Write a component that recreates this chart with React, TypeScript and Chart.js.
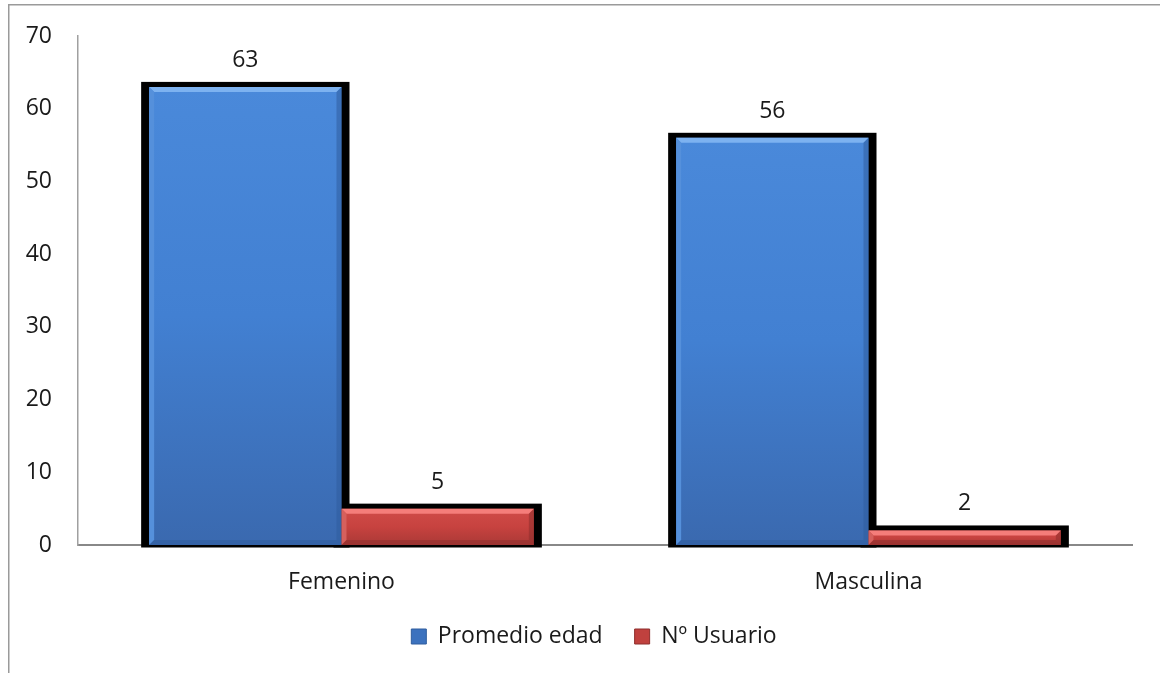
import React, { useEffect, useRef } from "react";
import { Chart, registerables } from "chart.js";

Chart.register(...registerables);

const categories = ["Femenino", "Masculina"];
const promedioEdad = [63, 56];
const numUsuario = [5, 2];
const seriesNames = ["Promedio edad", "Nº Usuario"];
const yTicks = [0, 10, 20, 30, 40, 50, 60, 70];

const FONT = "'Open Sans', sans-serif";
const FSIZE = 23;

const palettes = [
  { top: "#4A89DA", mid: "#4280D2", bottom: "#3A69AF", light: "#7DB2F0", side: "#5590DB", dark: "#2F5C9E", legend: "#3C72BE" },
  { top: "#D04C49", mid: "#C7423F", bottom: "#AA3937", light: "#F57D7A", side: "#D6605D", dark: "#8E2E2C", legend: "#C0413E" },
];

function barGradient(ctx: any, di: number) {
  const chart = ctx.chart;
  const y = chart.scales?.y;
  const p = palettes[di];
  if (!y || ctx.dataIndex === undefined) return p.mid;
  const v = ctx.raw as number;
  const top = y.getPixelForValue(v);
  const base = y.getPixelForValue(0);
  if (!isFinite(top) || !isFinite(base) || base - top < 1) return p.mid;
  const g = chart.ctx.createLinearGradient(0, top, 0, base);
  g.addColorStop(0, p.top);
  g.addColorStop(0.5, p.mid);
  g.addColorStop(1, p.bottom);
  return g;
}

const framePlugin = {
  id: "frame",
  beforeDraw(chart: any) {
    const c = chart.ctx;
    c.save();
    c.fillStyle = "#ffffff";
    c.fillRect(0, 0, chart.width, chart.height);
    c.strokeStyle = "#9a9a9a";
    c.lineWidth = 1.5;
    c.beginPath();
    c.moveTo(8.75, chart.height + 5);
    c.lineTo(8.75, 4.75);
    c.lineTo(chart.width + 5, 4.75);
    c.stroke();
    c.restore();
  },
};

const legendShiftPlugin = {
  id: "legendShift",
  afterLayout(chart: any) {
    const lg = chart.legend;
    if (lg) {
      lg.left = 28;
      lg.right = chart.width;
    }
  },
};

const shadowPlugin = {
  id: "barShadow",
  beforeDatasetsDraw(chart: any) {
    const c = chart.ctx;
    c.save();
    c.fillStyle = "#000000";
    chart.data.datasets.forEach((_: any, di: number) => {
      const meta = chart.getDatasetMeta(di);
      meta.data.forEach((el: any) => {
        const w = el.width;
        const l = el.x - w / 2 - 8;
        const r = el.x + w / 2 + 8;
        const t = el.y - 5;
        const b = el.base + 2.5;
        c.fillRect(l, t, r - l, b - t);
      });
    });
    c.restore();
  },
};

const bevelPlugin = {
  id: "bevel",
  afterDatasetsDraw(chart: any) {
    const c = chart.ctx;
    c.save();
    chart.data.datasets.forEach((ds: any, di: number) => {
      const p = palettes[di];
      const meta = chart.getDatasetMeta(di);
      meta.data.forEach((el: any, i: number) => {
        const w = el.width;
        const l = el.x - w / 2;
        const r = el.x + w / 2;
        const t = el.y;
        const b = el.base;
        const bv = Math.min(5, (b - t) / 2);
        c.fillStyle = p.light;
        c.beginPath();
        c.moveTo(l, t);
        c.lineTo(r, t);
        c.lineTo(r - bv, t + bv);
        c.lineTo(l + bv, t + bv);
        c.closePath();
        c.fill();
        c.fillStyle = p.side;
        c.beginPath();
        c.moveTo(l, t);
        c.lineTo(l + bv, t + bv);
        c.lineTo(l + bv, b - bv);
        c.lineTo(l, b);
        c.closePath();
        c.fill();
        c.fillStyle = p.dark;
        c.globalAlpha = 0.55;
        c.beginPath();
        c.moveTo(r, t);
        c.lineTo(r - bv, t + bv);
        c.lineTo(r - bv, b - bv);
        c.lineTo(r, b);
        c.closePath();
        c.fill();
        c.beginPath();
        c.moveTo(l, b);
        c.lineTo(l + bv, b - bv);
        c.lineTo(r - bv, b - bv);
        c.lineTo(r, b);
        c.closePath();
        c.fill();
        c.globalAlpha = 1;
        c.fillStyle = "#1a1a1a";
        c.font = `${FSIZE}px ${FONT}`;
        c.textAlign = "center";
        c.textBaseline = "alphabetic";
        c.fillText(String(ds.data[i]), el.x, t - 20);
      });
    });
    c.restore();
  },
};

export default function App() {
  const ref = useRef<HTMLCanvasElement | null>(null);
  useEffect(() => {
    if (!ref.current) return;
    const chart = new Chart(ref.current, {
      type: "bar",
      data: {
        labels: categories,
        datasets: [
          {
            label: seriesNames[0],
            data: promedioEdad,
            backgroundColor: (ctx: any) => barGradient(ctx, 0),
            borderWidth: 0,
          },
          {
            label: seriesNames[1],
            data: numUsuario,
            backgroundColor: (ctx: any) => barGradient(ctx, 1),
            borderWidth: 0,
          },
        ],
      },
      options: {
        responsive: false,
        animation: false,
        devicePixelRatio: 1,
        layout: { padding: { top: 36, right: 28, left: 0, bottom: 15 } },
        datasets: { bar: { barPercentage: 1, categoryPercentage: 0.73 } },
        scales: {
          x: {
            grid: { display: false, drawTicks: false },
            border: { display: true, color: "#888888", width: 2 },
            ticks: { font: { family: FONT, size: FSIZE }, color: "#1a1a1a", padding: 24 },
            afterFit: (s: any) => {
              s.height = 48;
              s.paddingLeft = 0;
              s.paddingRight = 0;
            },
          },
          y: {
            min: 0,
            max: 70,
            afterBuildTicks: (s: any) => {
              s.ticks = yTicks.map((v) => ({ value: v }));
            },
            grid: { display: false, drawTicks: false },
            border: { display: true, color: "#a0a0a0", width: 1.5 },
            ticks: { font: { family: FONT, size: FSIZE }, color: "#1a1a1a", padding: 26 },
            afterFit: (s: any) => {
              s.width = 78;
              s.paddingTop = 0;
              s.paddingBottom = 0;
            },
          },
        },
        plugins: {
          tooltip: { enabled: false },
          legend: {
            position: "bottom",
            labels: {
              font: { family: FONT, size: FSIZE },
              color: "#1a1a1a",
              boxWidth: 15,
              boxHeight: 15,
              padding: 32,
              generateLabels: () =>
                seriesNames.map((n, i) => ({
                  text: n,
                  fillStyle: palettes[i].legend,
                  strokeStyle: palettes[i].dark,
                  lineWidth: 1,
                  hidden: false,
                  datasetIndex: i,
                  fontColor: "#1a1a1a",
                })),
            },
          },
        },
      },
      plugins: [framePlugin, legendShiftPlugin, shadowPlugin, bevelPlugin],
    });
    return () => chart.destroy();
  }, []);
  return (
    <div style={{ position: "fixed", left: 0, top: 0, width: 1160, height: 673 }}>
      <canvas ref={ref} width={1160} height={673} style={{ width: 1160, height: 673, display: "block" }} />
    </div>
  );
}
